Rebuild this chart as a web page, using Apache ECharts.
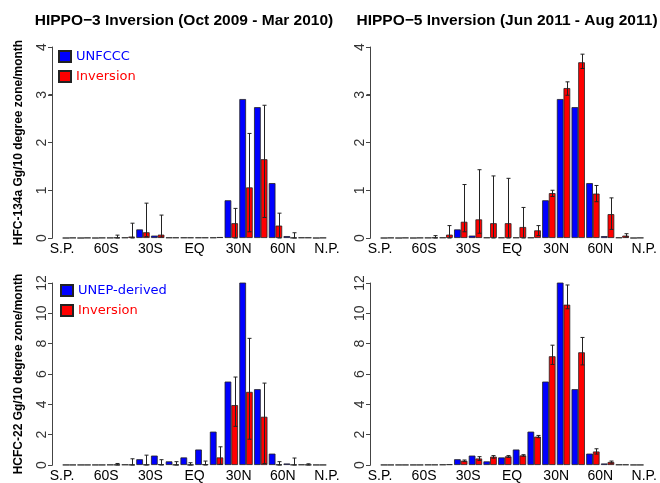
<!DOCTYPE html>
<html>
<head>
<meta charset="utf-8">
<title>HIPPO inversions</title>
<script src="https://cdn.jsdelivr.net/npm/echarts@6/dist/echarts.min.js"></script>
<style>
  html, body { margin: 0; padding: 0; background: #fff; }
  #chart { width: 660px; height: 483px; }
</style>
</head>
<body>
<div id="chart"></div>
<script>
// 10 degree latitude zones, south pole -> north pole
const bands = ['90S-80S', '80S-70S', '70S-60S', '60S-50S', '50S-40S', '40S-30S', '30S-20S', '20S-10S', '10S-0',
  '0-10N', '10N-20N', '20N-30N', '30N-40N', '40N-50N', '50N-60N', '60N-70N', '70N-80N', '80N-90N']
const latTicks = [-90, -60, -30, 0, 30, 60, 90]
const latLabels = ['S.P.', '60S', '30S', 'EQ', '30N', '60N', 'N.P.']

// HFC-134a, Gg / 10 degree zone / month
const hfcUnfccc = [0, 0, 0, 0.005, 0.01, 0.18, 0.05, 0.01, 0.01, 0.01, 0.01, 0.79, 2.91, 2.74, 1.15, 0.04, 0.01, 0]
const hfcHippo3 = [0.005, 0.005, 0.005, 0.01, 0.03, 0.12, 0.07, 0.01, 0.01, 0.01, 0.02, 0.31, 1.06, 1.65, 0.26, 0.005, 0.01, 0.005]
const hfcHippo3Lo = [null, null, null, 0, 0, 0.03, 0.02, null, null, null, null, 0, 0.13, 0.43, 0, 0, null, null]
const hfcHippo3Hi = [null, null, null, 0.06, 0.31, 0.73, 0.48, null, null, null, null, 0.62, 2.19, 2.78, 0.52, 0.11, null, null]
const hfcHippo5 = [0.005, 0.005, 0.005, 0.01, 0.07, 0.34, 0.39, 0.31, 0.31, 0.23, 0.16, 0.94, 3.14, 3.68, 0.93, 0.5, 0.05, 0.005]
const hfcHippo5Lo = [null, null, null, 0, 0, 0.13, 0.1, 0, 0, 0, 0.05, 0.87, 2.99, 3.55, 0.76, 0.18, 0.02, null]
const hfcHippo5Hi = [null, null, null, 0.05, 0.26, 1.12, 1.43, 1.3, 1.25, 0.64, 0.26, 1.0, 3.27, 3.85, 1.1, 0.84, 0.09, null]

// HCFC-22, Gg / 10 degree zone / month
const hcfcUnep = [0.01, 0.01, 0.01, 0.02, 0.03, 0.38, 0.62, 0.24, 0.5, 1.02, 2.2, 5.5, 12.05, 5.0, 0.75, 0.1, 0.03, 0.01]
const hcfcHippo3 = [0.01, 0.01, 0.01, 0.02, 0.02, 0.03, 0.05, 0.02, 0.02, 0.05, 0.5, 3.95, 4.82, 3.18, 0.03, 0.02, 0.02, 0.01]
const hcfcHippo3Lo = [null, null, null, 0, 0, 0, 0, 0, 0, 0, 0.05, 2.55, 1.7, 0.1, 0, 0, 0, null]
const hcfcHippo3Hi = [null, null, null, 0.1, 0.41, 0.65, 0.35, 0.22, 0.15, 0.26, 1.2, 5.8, 8.35, 5.4, 0.22, 0.46, 0.08, null]
const hcfcHippo5 = [0.01, 0.01, 0.01, 0.02, 0.05, 0.28, 0.43, 0.55, 0.57, 0.63, 1.87, 7.17, 10.57, 7.43, 0.89, 0.2, 0.03, 0.01]
const hcfcHippo5Lo = [null, null, null, null, null, 0.22, 0.3, 0.45, 0.5, 0.58, 1.8, 6.63, 10.3, 6.6, 0.72, 0.12, null, null]
const hcfcHippo5Hi = [null, null, null, null, null, 0.33, 0.55, 0.62, 0.62, 0.68, 1.95, 7.9, 11.87, 8.41, 1.07, 0.26, null, null]

const catGap = 0.09 // barCategoryGap as a fraction
const axisGap = 10 // y axis sits this far left of the bars

const panels = [
  { grid: { left: 62, top: 47, width: 265, height: 191 }, max: 4, step: 1,
    name: 'HFC-134a Gg/10 degree zone/month', blueName: 'UNFCCC', blue: hfcUnfccc, red: hfcHippo3, lo: hfcHippo3Lo, hi: hfcHippo3Hi },
  { grid: { left: 380, top: 47, width: 265, height: 191 }, max: 4, step: 1,
    name: '', blueName: 'UNFCCC', blue: hfcUnfccc, red: hfcHippo5, lo: hfcHippo5Lo, hi: hfcHippo5Hi },
  { grid: { left: 62, top: 283, width: 265, height: 184 }, max: 12, step: 2,
    name: 'HCFC-22 Gg/10 degree zone/month', blueName: 'UNEP-derived', blue: hcfcUnep, red: hcfcHippo3, lo: hcfcHippo3Lo, hi: hcfcHippo3Hi },
  { grid: { left: 380, top: 283, width: 265, height: 184 }, max: 12, step: 2,
    name: '', blueName: 'UNEP-derived', blue: hcfcUnep, red: hcfcHippo5, lo: hcfcHippo5Lo, hi: hcfcHippo5Hi }
]

// error bar on the red (second) bar of each zone
function errorBarItem (params, api) {
  const x = api.value(0)
  const lo = api.coord([x, api.value(1)])
  const hi = api.coord([x, api.value(2)])
  const band = api.size([1, 0])[0]
  const cx = Math.round(hi[0] + band * (1 - catGap) / 4) + 0.5
  const cap = 2
  return {
    type: 'group',
    children: [
      { type: 'line', shape: { x1: cx, y1: lo[1], x2: cx, y2: hi[1] }, style: { stroke: '#222', lineWidth: 1 } },
      { type: 'line', shape: { x1: cx - cap, y1: hi[1], x2: cx + cap, y2: hi[1] }, style: { stroke: '#222', lineWidth: 1 } },
      { type: 'line', shape: { x1: cx - cap, y1: lo[1], x2: cx + cap, y2: lo[1] }, style: { stroke: '#222', lineWidth: 1 } }
    ]
  }
}

const grids = []
const xAxes = []
const yAxes = []
const series = []

panels.forEach((p, i) => {
  grids.push(p.grid)
  // bars sit on a hidden category axis, labels come from a value axis in degrees
  xAxes.push({ gridIndex: i, type: 'category', data: bands, show: false })
  xAxes.push({
    gridIndex: i, type: 'value', min: -90, max: 90, interval: 30, position: 'bottom',
    axisLine: { show: false, onZero: false }, axisTick: { show: false }, splitLine: { show: false },
    axisLabel: {
      margin: 4, fontSize: 14, color: '#000', fontFamily: 'Liberation Sans',
      formatter: v => latLabels[latTicks.indexOf(v)] || ''
    }
  })
  yAxes.push({
    gridIndex: i, type: 'value', min: 0, max: p.max, interval: p.step, offset: axisGap, position: 'left', z: 10,
    axisLine: { show: true, onZero: false, lineStyle: { color: '#444', width: 1 } },
    axisTick: { show: true, length: 4, lineStyle: { color: '#444', width: 1 } },
    axisLabel: { rotate: 90, margin: 3, fontSize: 14, color: '#333', fontFamily: 'Liberation Sans' },
    splitLine: { show: false },
    name: p.name,
    nameLocation: 'middle',
    nameRotate: 90,
    nameGap: 27,
    nameTextStyle: { fontSize: 12, fontWeight: 'bold', color: '#000', fontFamily: 'Liberation Sans' }
  })
  series.push({
    name: p.blueName, type: 'bar', xAxisIndex: i * 2, yAxisIndex: i,
    data: p.blue, barGap: '0%', barCategoryGap: (catGap * 100) + '%',
    itemStyle: { color: '#0000ff', borderColor: '#222', borderWidth: 0.8 }
  })
  series.push({
    name: 'Inversion', type: 'bar', xAxisIndex: i * 2, yAxisIndex: i,
    data: p.red, barGap: '0%', barCategoryGap: (catGap * 100) + '%',
    itemStyle: { color: '#ff0000', borderColor: '#222', borderWidth: 0.8 }
  })
  const errData = []
  p.lo.forEach((lo, k) => {
    if (lo !== null && p.hi[k] !== null) errData.push([k, lo, p.hi[k]])
  })
  series.push({
    name: 'err' + i, type: 'custom', xAxisIndex: i * 2, yAxisIndex: i,
    renderItem: errorBarItem, data: errData, encode: { x: 0, y: [1, 2] }, z: 5
  })
})

const legendText = { fontFamily: 'DejaVu Sans', fontSize: 13 }
const legendBase = {
  orient: 'vertical', icon: 'rect', itemWidth: 12, itemHeight: 11, itemGap: 7,
  padding: 0, selectedMode: false, textStyle: legendText
}

const titleStyle = { fontSize: 15.5, fontWeight: 'bold', color: '#000', fontFamily: 'Liberation Sans' }

const option = {
  animation: false,
  title: [
    { text: 'HIPPO−3 Inversion (Oct 2009 - Mar 2010)', left: 179, top: 8, textAlign: 'center', textStyle: titleStyle },
    { text: 'HIPPO−5 Inversion (Jun 2011 - Aug 2011)', left: 502, top: 8, textAlign: 'center', textStyle: titleStyle }
  ],
  legend: [
    Object.assign({}, legendBase, {
      left: 58, top: 50,
      data: [{ name: 'UNFCCC', textStyle: { color: '#0000ff' } }, { name: 'Inversion', textStyle: { color: '#ff0000' } }]
    }),
    Object.assign({}, legendBase, {
      left: 60, top: 284,
      data: [{ name: 'UNEP-derived', textStyle: { color: '#0000ff' } }, { name: 'Inversion', textStyle: { color: '#ff0000' } }]
    })
  ],
  grid: grids,
  xAxis: xAxes,
  yAxis: yAxes,
  series: series
}

const chart = echarts.init(document.getElementById('chart'))
chart.setOption(option)

// the offset y axis lines did not show up in the render, so trace them again from the axis scales
const axisMarks = []
const axisStroke = { stroke: '#444', lineWidth: 1 }
panels.forEach((p, i) => {
  const x = chart.convertToPixel({ xAxisIndex: i * 2 + 1 }, -90) - axisGap + 0.5
  const yBottom = chart.convertToPixel({ yAxisIndex: i }, 0)
  const yTop = chart.convertToPixel({ yAxisIndex: i }, p.max)
  axisMarks.push({ type: 'line', z: 20, silent: true, shape: { x1: x, y1: yBottom, x2: x, y2: yTop }, style: axisStroke })
  for (let v = 0; v <= p.max; v += p.step) {
    const y = Math.floor(chart.convertToPixel({ yAxisIndex: i }, v)) + 0.5
    axisMarks.push({ type: 'line', z: 20, silent: true, shape: { x1: x - 4, y1: y, x2: x, y2: y }, style: axisStroke })
  }
})
chart.setOption({ graphic: axisMarks })
</script>
</body>
</html>
